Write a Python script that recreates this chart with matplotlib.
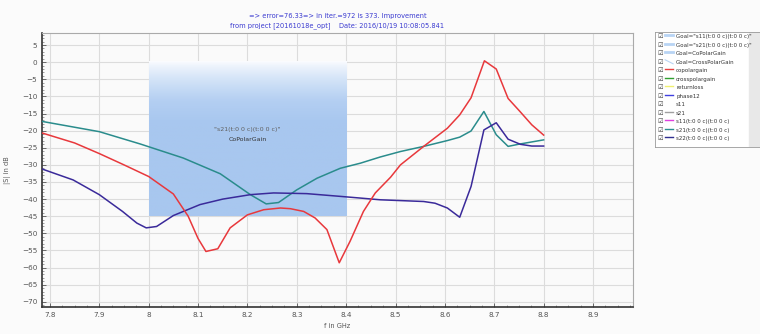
import numpy as np
import matplotlib
matplotlib.use('Agg')
from matplotlib import pyplot as plt
from matplotlib.colors import LinearSegmentedColormap

# copolargain / s21 (red)
f_red = [7.78, 7.85, 7.90, 7.95, 8.00, 8.05, 8.08, 8.10, 8.116, 8.14, 8.165, 8.20,
         8.233, 8.267, 8.287, 8.314, 8.337, 8.361, 8.386, 8.408, 8.435, 8.459, 8.49,
         8.51, 8.557, 8.605, 8.63, 8.653, 8.68, 8.704, 8.728, 8.752, 8.776, 8.80]
db_red = [-20.5, -23.6, -26.7, -30.0, -33.4, -38.5, -45.0, -51.5, -55.3, -54.5, -48.4, -44.6,
          -43.1, -42.6, -42.8, -43.6, -45.5, -48.9, -58.6, -52.3, -43.6, -38.2, -33.6,
          -30.0, -24.6, -19.3, -15.4, -10.4, 0.4, -2.0, -10.6, -14.4, -18.3, -21.3]

# s11 (teal)
f_teal = [7.78, 7.90, 7.983, 8.07, 8.145, 8.206, 8.238, 8.263, 8.30, 8.341, 8.388,
          8.429, 8.469, 8.51, 8.557, 8.605, 8.63, 8.653, 8.679, 8.704, 8.728, 8.752, 8.80]
db_teal = [-17.2, -20.3, -23.9, -28.0, -32.6, -38.7, -41.4, -41.0, -37.3, -33.9, -31.0,
           -29.5, -27.7, -26.1, -24.6, -22.9, -21.9, -20.1, -14.4, -21.2, -24.6, -23.9, -22.7]

# s22 (dark blue)
f_blue = [7.78, 7.847, 7.90, 7.947, 7.976, 7.995, 8.016, 8.05, 8.104, 8.15, 8.206, 8.253,
          8.32, 8.388, 8.429, 8.469, 8.557, 8.58, 8.605, 8.63, 8.653, 8.679, 8.704,
          8.728, 8.753, 8.776, 8.80]
db_blue = [-31.0, -34.4, -38.7, -43.6, -47.0, -48.4, -48.0, -44.8, -41.6, -40.0, -38.7, -38.2,
           -38.4, -39.2, -39.7, -40.2, -40.7, -41.2, -42.6, -45.3, -36.3, -19.8, -17.7,
           -22.5, -24.0, -24.5, -24.5]

# goal window
goal_f = [8.0, 8.4]
goal_db = [-45, 0]

legend_names = ['Goal="s11(t:0 0 c)(t:0 0 c)"', 'Goal="s21(t:0 0 c)(t:0 0 c)"',
                'Goal=CoPolarGain', 'Goal=CrossPolarGain', 'copolargain',
                'crosspolargain', 'returnloss', 'phase12', 's11', 's21',
                's11(t:0 0 c)(t:0 0 c)', 's21(t:0 0 c)(t:0 0 c)', 's22(t:0 0 c)(t:0 0 c)']
legend_cols = ['#b8d4f4', '#b8d4f4', '#b8d4f4', '#b8d4f4', '#e84040', '#30a030',
               '#f0f070', '#4040e0', '#ffffff', '#a0a0a0', '#e040e0', '#2a9090', '#303090']

xticks = [7.8, 7.9, 8.0, 8.1, 8.2, 8.3, 8.4, 8.5, 8.6, 8.7, 8.8, 8.9]
xticklabels = ['7.8', '7.9', '8', '8.1', '8.2', '8.3', '8.4', '8.5', '8.6', '8.7', '8.8', '8.9']
yticks = list(range(5, -71, -5))

fig = plt.figure(figsize=(7.6, 3.34), dpi=100, facecolor='#fbfbfb')
ax = fig.add_axes([0.0553, 0.081, 0.7776, 0.820])
ax.set_facecolor('#fafafa')
ax.set_axisbelow(True)

ax.set_xlim(7.784, 8.981)
ax.set_ylim(-71.5, 8.5)
ax.set_xticks(xticks)
ax.set_xticklabels(xticklabels)
ax.set_yticks(yticks)
ax.set_xticks(np.arange(7.8, 8.98, 0.025), minor=True)
ax.set_yticks(np.arange(-71, 9, 1), minor=True)
ax.tick_params(which='both', direction='in', labelsize=5.2, labelcolor='#555555', color='#555555')
ax.tick_params(which='major', length=3, width=0.6)
ax.tick_params(which='minor', length=1.5, width=0.4)
ax.grid(True, which='major', color='#dcdcdc', lw=0.8)
for s in ['top', 'right']:
    ax.spines[s].set_color('#aaaaaa')
    ax.spines[s].set_linewidth(0.8)
for s in ['left', 'bottom']:
    ax.spines[s].set_color('#333333')
    ax.spines[s].set_linewidth(1.2)

# goal rectangle with vertical gradient
cmap = LinearSegmentedColormap.from_list('goal', [(0.0, '#fbfcff'), (0.35, '#d6e5f8'),
                                                  (0.7, '#b4cff2'), (1.0, '#a8c7ef')])
grad = np.concatenate([np.linspace(0, 1, 80) ** 0.8, np.ones(120)])[:, None]
ax.imshow(grad, extent=[goal_f[0], goal_f[1], goal_db[0], goal_db[1]], aspect='auto',
          cmap=cmap, origin='upper', zorder=1)
ax.text(8.2, -19.8, '"s21(t:0 0 c)(t:0 0 c)"', ha='center', va='center', fontsize=4.5, color='#606060', zorder=2)
ax.text(8.2, -22.6, 'CoPolarGain', ha='center', va='center', fontsize=4.5, color='#333333', zorder=2)

ax.plot(f_teal, db_teal, color='#2a8c8c', lw=1.1, zorder=3)
ax.plot(f_blue, db_blue, color='#3a2a9a', lw=1.1, zorder=3)
ax.plot(f_red, db_red, color='#e8383c', lw=1.1, zorder=4)

ax.set_xlabel('f in GHz', fontsize=4.8, color='#555555', labelpad=5)
ax.set_ylabel('|S| in dB', fontsize=4.8, color='#555555', labelpad=8)
ax.xaxis.set_label_coords(0.5, -0.06)

fig.text(0.444, 0.945, '=> error=76.33=> in iter.=972 is 373. Improvement', ha='center',
         fontsize=4.8, color='#3a3ad0')
fig.text(0.444, 0.918, 'from project [20161018e_opt]    Date: 2016/10/19 10:08:05.841', ha='center',
         fontsize=4.8, color='#3a3ad0')

# legend panel
lax = fig.add_axes([0.862, 0.56, 0.138, 0.345])
lax.set_xlim(0, 105)
lax.set_ylim(115, 0)
lax.set_xticks([])
lax.set_yticks([])
lax.set_facecolor('white')
for s in lax.spines.values():
    s.set_color('#999999')
    s.set_linewidth(0.6)
lax.add_patch(plt.Rectangle((94, 0), 11, 115, color='#e8e8e8', zorder=1))
for i, (name, col) in enumerate(zip(legend_names, legend_cols)):
    yy = 5 + i * 8.5
    lax.text(2.5, yy, '\u2611', fontsize=4.5, va='center', color='#444444', family='DejaVu Sans')
    if i == 3:
        lax.plot([10, 18], [yy - 2.5, yy + 1.5], color=col, lw=0.8)
    else:
        lax.plot([10, 18], [yy - 1.5, yy - 1.5], color=col, lw=2.0 if i < 3 else 1.0)
    lax.text(21, yy, name, fontsize=4.0, va='center', color='#333333')

fig.savefig('out.png', dpi=100, facecolor=fig.get_facecolor())
